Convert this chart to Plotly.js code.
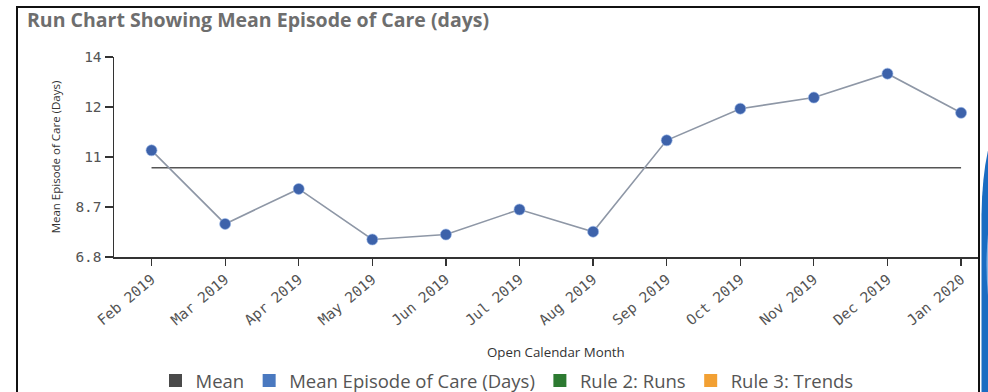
<!DOCTYPE html>
<html>
<head>
<meta charset="utf-8">
<script src="https://cdn.plot.ly/plotly-3.0.1.min.js"></script>
<style>
  html, body { margin: 0; padding: 0; background: #ffffff; }
  #chart { width: 988px; height: 392px; }
</style>
</head>
<body>
<div id="chart"></div>
<script>
// Months on the category axis
const months = ['Feb 2019', 'Mar 2019', 'Apr 2019', 'May 2019', 'Jun 2019', 'Jul 2019',
                'Aug 2019', 'Sep 2019', 'Oct 2019', 'Nov 2019', 'Dec 2019', 'Jan 2020'];

// Mean episode of care per month (days)
const meanEpisodeDays = [10.64, 7.99, 9.25, 7.43, 7.61, 8.51, 7.71, 11.00, 12.14, 12.54, 13.40, 11.99];

// Y axis tick positions and the labels shown at them
const yTickVals = [6.8, 8.6, 10.4, 12.2, 14];
const yTickText = ['6.8', '8.7', '11', '12', '14'];

// Legend entries
const legendNames = ['Mean', 'Mean Episode of Care (Days)', 'Rule 2: Runs', 'Rule 3: Trends'];
const legendColors = ['#4a4a4a', '#4a79c0', '#2c7a31', '#f2a033'];

// Overall mean across all months, drawn as a flat reference line
const overallMean = meanEpisodeDays.reduce((a, b) => a + b, 0) / meanEpisodeDays.length;

// Plot area geometry (pixels) used to place decorations in paper coordinates
const M = { l: 114, r: 10, t: 57, b: 135, autoexpand: false };
const W = 988, H = 392;
const PW = W - M.l - M.r, PH = H - M.t - M.b;
const px = x => (x - M.l) / PW;
const py = y => (H - M.b - y) / PH;

const traces = [
  {
    x: months,
    y: months.map(() => overallMean),
    type: 'scatter',
    mode: 'lines',
    line: { color: '#555555', width: 1.5 },
    showlegend: false,
    hoverinfo: 'skip'
  },
  {
    x: months,
    y: meanEpisodeDays,
    type: 'scatter',
    mode: 'lines+markers',
    line: { color: '#8e97a6', width: 1.6 },
    marker: { color: '#3d62aa', size: 11, line: { color: 'rgba(150,180,230,0.6)', width: 1 } },
    showlegend: false,
    hoverinfo: 'skip'
  }
];

// Square swatches for the legend
legendNames.forEach((name, i) => {
  traces.push({
    x: [null], y: [null],
    type: 'scatter',
    mode: 'markers',
    name: name,
    marker: { symbol: 'square', size: 13, color: legendColors[i] },
    showlegend: true,
    hoverinfo: 'skip'
  });
});

const layout = {
  width: W,
  height: H,
  margin: M,
  paper_bgcolor: '#ffffff',
  plot_bgcolor: '#ffffff',
  title: {
    text: 'Run Chart Showing Mean Episode of Care (days)',
    font: { family: 'Open Sans, sans-serif', size: 19.5, color: '#6e6e6e', weight: 'bold' },
    x: 27 / W, xanchor: 'left', xref: 'container',
    y: 1 - 20 / H, yanchor: 'middle', yref: 'container',
    automargin: false
  },
  xaxis: {
    type: 'category',
    range: [-0.51, 11.23],
    automargin: false,
    showline: true, linecolor: '#333333', linewidth: 1.5,
    ticks: 'outside', ticklen: 7, tickcolor: '#333333', tickwidth: 1.2,
    tickangle: -40,
    tickfont: { family: 'DejaVu Sans Mono, monospace', size: 14.5, color: '#545454' },
    showgrid: false, zeroline: false,
    fixedrange: true
  },
  yaxis: {
    range: [6.8, 14],
    automargin: false,
    tickvals: yTickVals,
    ticktext: yTickText,
    showline: true, linecolor: '#333333', linewidth: 1.5,
    ticks: 'outside', ticklen: 8, tickcolor: '#333333', tickwidth: 1.2,
    tickfont: { family: 'DejaVu Sans Mono, monospace', size: 14.5, color: '#545454' },
    showgrid: false, zeroline: false,
    title: {
      text: 'Mean Episode of Care (Days)',
      font: { family: 'Open Sans, sans-serif', size: 11.5, color: '#333333' },
      standoff: 12
    },
    fixedrange: true
  },
  showlegend: true,
  legend: {
    orientation: 'h',
    x: px(507), xanchor: 'center',
    y: py(381), yanchor: 'middle',
    font: { family: 'Open Sans, sans-serif', size: 18.5, color: '#555555' },
    itemwidth: 30,
    bgcolor: 'rgba(0,0,0,0)'
  },
  annotations: [
    {
      text: 'Open Calendar Month',
      xref: 'paper', yref: 'paper',
      x: px(556), y: py(352),
      xanchor: 'center', yanchor: 'middle',
      showarrow: false,
      font: { family: 'Open Sans, sans-serif', size: 13.3, color: '#333333' }
    }
  ],
  shapes: [
    // frame around the chart panel
    {
      type: 'rect', xref: 'paper', yref: 'paper',
      x0: px(17), x1: px(979), y0: py(405), y1: py(7),
      line: { color: '#111111', width: 2 },
      fillcolor: 'rgba(0,0,0,0)', layer: 'above'
    },
    // blue page ornament on the right edge
    {
      type: 'path', xref: 'paper', yref: 'paper',
      path: 'M ' + px(989) + ' ' + py(146) +
            ' Q ' + px(982) + ' ' + py(175) + ' ' + px(981.5) + ' ' + py(215) +
            ' L ' + px(981.5) + ' ' + py(395) + ' L ' + px(989) + ' ' + py(395) + ' Z',
      fillcolor: '#1a6cc2', line: { width: 0 }, layer: 'above'
    },
    {
      type: 'path', xref: 'paper', yref: 'paper',
      path: 'M ' + px(989) + ' ' + py(225) +
            ' Q ' + px(984) + ' ' + py(265) + ' ' + px(989) + ' ' + py(305) + ' Z',
      fillcolor: '#7fb2e6', line: { width: 0 }, layer: 'above'
    }
  ]
};

Plotly.newPlot('chart', traces, layout, { staticPlot: true, displayModeBar: false });
</script>
</body>
</html>
